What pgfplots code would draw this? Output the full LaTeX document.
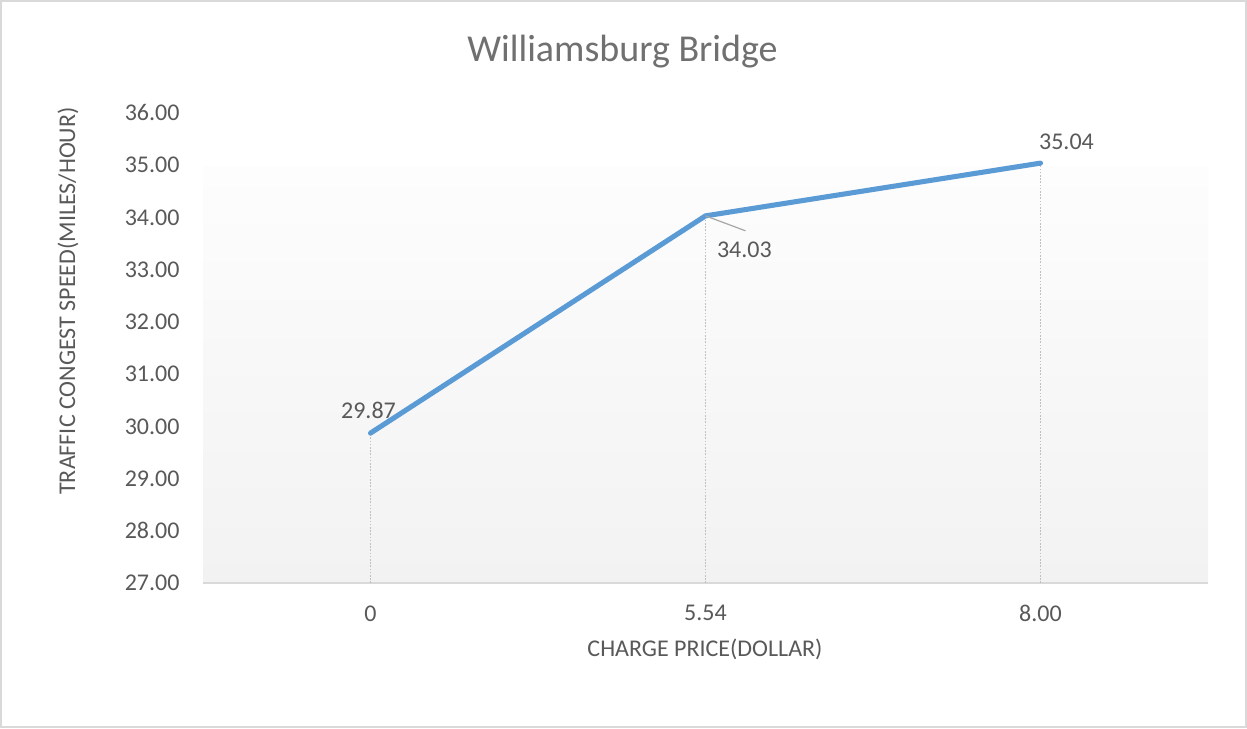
\documentclass[border=0pt]{standalone}
\usepackage{fontspec}
\setmainfont{Carlito}
\usepackage{pgfplots}
\pgfplotsset{compat=1.18}

\definecolor{txt}{HTML}{595959}
\definecolor{titlec}{HTML}{707070}
\definecolor{ser}{HTML}{5B9BD5}
\definecolor{framec}{HTML}{D9D9D9}
\definecolor{dropc}{HTML}{BFBFBF}
\definecolor{leader}{HTML}{A6A6A6}
\definecolor{plottop}{HTML}{FDFDFD}
\definecolor{plotbot}{HTML}{F2F2F2}

\newcommand{\lblfont}{\fontsize{9}{10.8}\selectfont}

\begin{document}
\begin{tikzpicture}[x=0.375pt,y=0.375pt]
  % chart area
  \useasboundingbox (0,0) rectangle (1247,729);
  \fill[white] (0,0) rectangle (1247,729);
  \draw[framec, line width=0.75pt] (1,1.5) rectangle (1245.5,728);

  % plot area fill
  \shade[top color=plottop, bottom color=plotbot] (203,146) rectangle (1208,562);

  \begin{axis}[
    at={(76.125pt,54.75pt)}, anchor=south west,
    scale only axis,
    width=376.875pt, height=176.25pt,
    xmin=-0.5, xmax=2.5,
    ymin=27, ymax=36,
    ytick={27,28,...,36},
    xtick={0,1,2},
    xticklabels={0,5.54,8.00},
    axis x line=bottom,
    axis y line=left,
    x axis line style={framec, line width=0.75pt, -},
    y axis line style={draw=none},
    major tick length=0pt,
    clip=false,
    tick label style={font=\lblfont, text=txt, inner sep=0pt},
    yticklabel style={anchor=east, xshift=-8.6pt,
      /pgf/number format/.cd, fixed, fixed zerofill, precision=2,
      assume math mode=true},
    xticklabel style={anchor=north, yshift=-8.25pt},
  ]
    % drop lines from each point to the axis
    \addplot[dropc, line width=0.4pt, dash pattern=on 0.6pt off 0.6pt]
      coordinates {(0,27) (0,29.87)};
    \addplot[dropc, line width=0.4pt, dash pattern=on 0.6pt off 0.6pt]
      coordinates {(1,27) (1,34.03)};
    \addplot[dropc, line width=0.4pt, dash pattern=on 0.6pt off 0.6pt]
      coordinates {(2,27) (2,35.04)};

    % speed series
    \addplot[ser, line width=1.9pt, line join=round, line cap=round]
      coordinates {(0,29.87) (1,34.03) (2,35.04)};

    % leader line for the middle label
    \draw[leader, line width=0.45pt] (axis cs:1,34.03) -- ++(15pt,-5.6pt);

    % data labels
    \addplot[draw=none, nodes near coords, point meta=explicit symbolic,
      nodes near coords style={anchor=center, font=\lblfont, text=txt,
        xshift=-0.75pt, yshift=8.4pt}]
      coordinates {(0,29.87) [29.87]};
    \addplot[draw=none, nodes near coords, point meta=explicit symbolic,
      nodes near coords style={anchor=center, font=\lblfont, text=txt,
        xshift=14.6pt, yshift=-12.9pt}]
      coordinates {(1,34.03) [34.03]};
    \addplot[draw=none, nodes near coords, point meta=explicit symbolic,
      nodes near coords style={anchor=center, font=\lblfont, text=txt,
        xshift=9.75pt, yshift=7.9pt}]
      coordinates {(2,35.04) [35.04]};
  \end{axis}

  % titles
  \node[anchor=base, font=\fontsize{14.25}{17}\selectfont, text=titlec]
    at (622.5,667.5) {Williamsburg Bridge};
  \node[anchor=base, font=\lblfont, text=txt]
    at (705,72) {CHARGE PRICE(DOLLAR)};
  \node[anchor=base, rotate=90, font=\lblfont, text=txt]
    at (75,428) {TRAFFIC CONGEST SPEED(MILES/HOUR)};
\end{tikzpicture}
\end{document}
